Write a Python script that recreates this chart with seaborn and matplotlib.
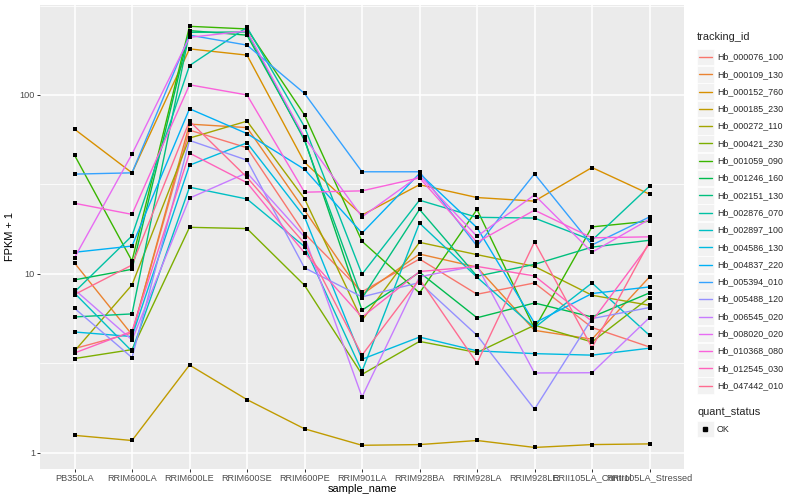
import numpy as np
import pandas as pd
import matplotlib
matplotlib.use("Agg")
import matplotlib.pyplot as plt
import seaborn as sns
from matplotlib.lines import Line2D
from matplotlib.patches import Rectangle
from matplotlib.ticker import NullFormatter

# sample order on the x axis
samples = ["PB350LA", "RRIM600LA", "RRIM600LE", "RRIM600SE", "RRIM600PE", "RRIM901LA",
           "RRIM928BA", "RRIM928LA", "RRIM928LE", "RRII105LA_Control", "RRII105LA_Stressed"]

tracking_ids = ["Hb_000076_100", "Hb_000109_130", "Hb_000152_760", "Hb_000185_230",
                "Hb_000272_110", "Hb_000421_230", "Hb_001059_090", "Hb_001246_160",
                "Hb_002151_130", "Hb_002876_070", "Hb_002897_100", "Hb_004586_130",
                "Hb_004837_220", "Hb_005394_010", "Hb_005488_120", "Hb_006545_020",
                "Hb_008020_020", "Hb_010368_080", "Hb_012545_030", "Hb_047442_010"]

# ggplot default hue palette, 20 levels
palette = ["#F8766D", "#EA8331", "#D89000", "#C09B00", "#A3A500", "#7CAE00", "#39B600",
           "#00BB4E", "#00BF7D", "#00C1A3", "#00BFC4", "#00BAE0", "#00B0F6", "#35A2FF",
           "#9590FF", "#C77CFF", "#E76BF3", "#FA62DB", "#FF62BC", "#FF6C91"]

# FPKM + 1 per gene, one value per sample
hb_000076_100 = [3.82, 4.67, 63.6, 50.7, 16.8, 7.94, 12.1, 7.69, 8.89, 5.01, 3.90]
hb_000109_130 = [11.5, 4.57, 68.7, 65.7, 22.7, 7.66, 12.9, 10.9, 4.83, 4.31, 9.61]
hb_000152_760 = [64.4, 36.7, 181, 167, 42.0, 21.3, 31.5, 26.7, 25.5, 39.3, 27.9]
hb_000185_230 = [1.25, 1.17, 3.09, 1.98, 1.36, 1.10, 1.11, 1.17, 1.07, 1.11, 1.12]
hb_000272_110 = [3.70, 8.67, 57.4, 71.4, 26.3, 5.50, 15.0, 12.8, 11.0, 7.59, 6.67]
hb_000421_230 = [3.36, 3.77, 18.2, 17.9, 8.63, 2.74, 4.19, 3.63, 5.16, 4.16, 7.37]
hb_001059_090 = [46.1, 11.8, 242, 234, 77.3, 15.2, 7.82, 22.9, 4.94, 18.3, 19.7]
hb_001246_160 = [9.25, 10.6, 229, 216, 56.6, 6.26, 10.2, 5.68, 6.87, 5.74, 7.82]
hb_002151_130 = [5.74, 5.97, 224, 225, 55.7, 7.30, 22.9, 9.70, 11.3, 14.1, 15.4]
hb_002876_070 = [7.92, 16.3, 146, 239, 66.4, 9.95, 25.8, 20.7, 20.5, 15.4, 30.9]
hb_002897_100 = [7.80, 3.69, 30.5, 26.2, 14.2, 2.85, 19.2, 9.57, 5.00, 8.89, 4.53]
hb_004586_130 = [4.73, 4.46, 40.5, 54.0, 20.8, 3.33, 4.43, 3.71, 3.58, 3.51, 3.84]
hb_004837_220 = [13.2, 14.3, 83.7, 60.8, 38.4, 16.9, 36.4, 18.1, 5.31, 7.76, 8.45]
hb_005394_010 = [36.1, 36.7, 216, 190, 102, 37.2, 37.2, 14.3, 36.2, 14.5, 20.8]
hb_005488_120 = [6.42, 3.40, 55.7, 43.2, 10.8, 7.43, 8.94, 4.53, 1.75, 5.62, 6.48]
hb_006545_020 = [8.17, 4.27, 26.5, 36.7, 16.1, 2.05, 9.63, 11.1, 2.79, 2.80, 5.69]
hb_008020_020 = [12.3, 46.7, 210, 228, 57.9, 20.8, 35.5, 16.2, 27.6, 13.2, 20.2]
hb_010368_080 = [24.8, 21.5, 114, 100, 28.6, 29.1, 34.4, 15.0, 22.7, 15.9, 16.1]
hb_012545_030 = [3.61, 4.77, 47.3, 32.3, 13.1, 5.72, 10.3, 11.0, 9.73, 5.43, 14.7]
hb_047442_010 = [7.66, 11.2, 71.4, 34.6, 14.8, 3.51, 9.33, 3.17, 15.1, 3.87, 15.1]

series = [hb_000076_100, hb_000109_130, hb_000152_760, hb_000185_230, hb_000272_110,
          hb_000421_230, hb_001059_090, hb_001246_160, hb_002151_130, hb_002876_070,
          hb_002897_100, hb_004586_130, hb_004837_220, hb_005394_010, hb_005488_120,
          hb_006545_020, hb_008020_020, hb_010368_080, hb_012545_030, hb_047442_010]

rows = []
for tid, vals in zip(tracking_ids, series):
    for s, v in zip(samples, vals):
        rows.append((tid, s, v, "OK"))
df = pd.DataFrame(rows, columns=["tracking_id", "sample_name", "fpkm", "quant_status"])
df["pos"] = pd.Categorical(df["sample_name"], categories=samples).codes

sns.set_theme(style="darkgrid", rc={"axes.facecolor": "#EBEBEB", "figure.facecolor": "white"})
plt.rcParams["font.family"] = ["Liberation Sans", "DejaVu Sans"]

fig, ax = plt.subplots(figsize=(8, 5), dpi=100)
fig.subplots_adjust(left=0.05, right=0.855, bottom=0.0626, top=0.99)

sns.lineplot(data=df, x="pos", y="fpkm", hue="tracking_id", hue_order=tracking_ids,
             palette=palette, estimator=None, sort=False, units="tracking_id",
             linewidth=1.0, legend=False, ax=ax)
sns.scatterplot(data=df, x="pos", y="fpkm", color="black", marker="s", s=12,
                linewidth=0, legend=False, ax=ax, zorder=3)

ax.set_yscale("log")
ax.set_ylim(10 ** -0.0895, 10 ** 2.503)
ax.set_xlim(-0.6, len(samples) - 0.4)
ax.set_xticks(range(len(samples)))
ax.set_xticklabels(samples)
ax.set_yticks([1, 10, 100])
ax.set_yticklabels(["1", "10", "100"])
ax.set_yticks([10 ** 0.5, 10 ** 1.5, 10 ** 2.5], minor=True)
ax.yaxis.set_minor_formatter(NullFormatter())

ax.grid(which="major", color="white", linewidth=1.1)
ax.grid(which="minor", axis="y", color="white", linewidth=0.55)
ax.set_axisbelow(True)
for sp in ax.spines.values():
    sp.set_visible(False)
ax.tick_params(which="major", length=2.0, width=0.7, color="#333333",
               labelcolor="#4D4D4D", labelsize=6.6, pad=1.6, bottom=True, left=True)
ax.tick_params(which="minor", length=0)

ax.set_xlabel("sample_name", fontsize=7.9, color="black", labelpad=1)
ax.set_ylabel("FPKM + 1", fontsize=7.9, color="black", labelpad=3)

# ggplot-like legends on the right
def fx(px):
    return px / 800.0

def fy(py):
    return 1 - py / 500.0

fig.text(fx(697), fy(37), "tracking_id", fontsize=7.9, va="center", ha="left")
for i, (tid, col) in enumerate(zip(tracking_ids, palette)):
    yc = 57 + 17.3 * i
    fig.patches.append(Rectangle((fx(697), fy(yc + 8.3)), fx(16.6), 16.6 / 500.0,
                                 transform=fig.transFigure, facecolor="#F2F2F2",
                                 edgecolor="white", linewidth=0.5))
    fig.add_artist(Line2D([fx(699), fx(712)], [fy(yc), fy(yc)], color=col,
                          linewidth=1.0, transform=fig.transFigure))
    fig.text(fx(717), fy(yc), tid, fontsize=6.4, va="center", ha="left")

fig.text(fx(697), fy(412), "quant_status", fontsize=7.9, va="center", ha="left")
fig.patches.append(Rectangle((fx(697), fy(429 + 8.3)), fx(16.6), 16.6 / 500.0,
                             transform=fig.transFigure, facecolor="#F2F2F2",
                             edgecolor="white", linewidth=0.5))
fig.add_artist(Line2D([fx(705.3)], [fy(429)], marker="s", markersize=2.8, color="black",
                      linestyle="none", transform=fig.transFigure))
fig.text(fx(717), fy(429), "OK", fontsize=6.4, va="center", ha="left")

fig.savefig("out.png", dpi=100)
